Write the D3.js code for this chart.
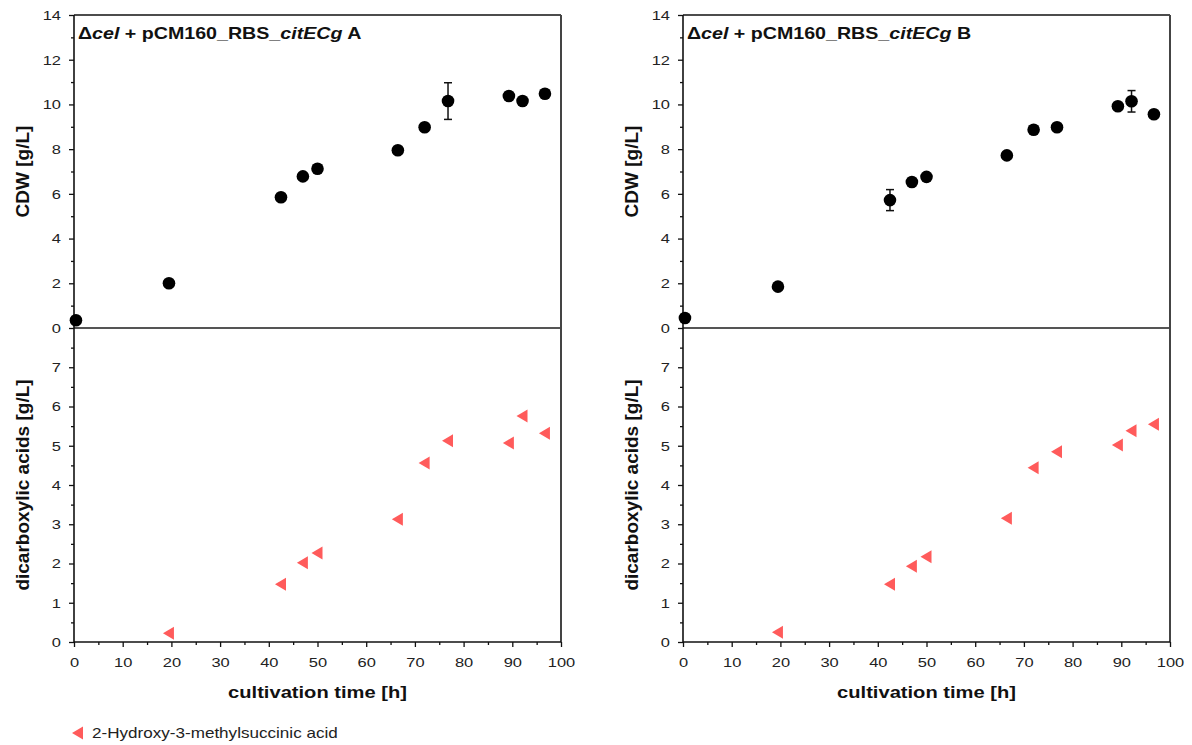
<!DOCTYPE html>
<html>
<head>
<meta charset="utf-8">
<script src="https://cdn.jsdelivr.net/npm/d3@7"></script>
<style>
  body { margin: 0; background: #fff; }
  svg { font-family: "Liberation Sans", Arial, sans-serif; }
</style>
</head>
<body>
<svg id="chart" width="1192" height="745"></svg>
<script>
// sampling times [h]
const timesCdw = [0.4, 19.5, 42.5, 47, 50, 66.5, 72, 76.8, 89.3, 92.1, 96.7];
const timesAcid = [19.5, 42.5, 47, 50, 66.5, 72, 76.8, 89.3, 92.1, 96.7];

// panel A
const cdwA = [0.35, 2.0, 5.85, 6.78, 7.12, 7.95, 8.98, 10.15, 10.38, 10.15, 10.48];
const cdwErrA = [0, 0, 0, 0, 0, 0, 0, 0.82, 0, 0, 0];
const acidA = [0.22, 1.47, 2.02, 2.27, 3.13, 4.56, 5.13, 5.07, 5.76, 5.32];

// panel B
const cdwB = [0.45, 1.85, 5.72, 6.53, 6.76, 7.72, 8.87, 8.98, 9.92, 10.14, 9.56];
const cdwErrB = [0, 0, 0.47, 0, 0, 0, 0, 0, 0, 0.48, 0];
const acidB = [0.25, 1.47, 1.93, 2.17, 3.15, 4.44, 4.85, 5.02, 5.38, 5.55];

const xTicks = d3.range(0, 101, 10);
const cdwTicks = d3.range(0, 15, 2);
const acidTicks = d3.range(0, 8, 1);
const legendLabel = "2-Hydroxy-3-methylsuccinic acid";
const acidColor = "#ff5b5b";

// text in the original is drawn a little wide
const SX = 1.22;

const svg = d3.select("#chart");

const panels = [
  { left: 74, letter: "A", cdw: cdwA, err: cdwErrA, acid: acidA },
  { left: 683, letter: "B", cdw: cdwB, err: cdwErrB, acid: acidB }
];

const width = 487;
const yTop = 15, yMid = 328, yBot = 642;

// left-pointing triangle
const tri = "M-6,0L5,-6.5L5,6.5Z";

function widen(sel) {
  sel.each(function () {
    const el = d3.select(this);
    const x0 = +el.attr("x") || 0;
    el.attr("x", 0).attr("transform", "translate(" + x0 + ",0) scale(" + SX + ",1)");
  });
}

panels.forEach(function (p) {
  const g = svg.append("g");
  const x = d3.scaleLinear().domain([0, 100]).range([p.left, p.left + width]);
  const yc = d3.scaleLinear().domain([0, 14]).range([yMid, yTop]);
  const ya = d3.scaleLinear().domain([0, 8]).range([yBot, yMid]);

  // minor ticks
  g.append("g")
    .attr("transform", "translate(" + p.left + ",0)")
    .call(d3.axisLeft(yc).tickValues(d3.range(1, 14, 2)).tickSize(3).tickFormat(""))
    .call(s => s.select(".domain").remove());
  g.append("g")
    .attr("transform", "translate(" + p.left + ",0)")
    .call(d3.axisLeft(ya).tickValues(d3.range(0.5, 8, 1)).tickSize(3).tickFormat(""))
    .call(s => s.select(".domain").remove());
  g.append("g")
    .attr("transform", "translate(0," + yBot + ")")
    .call(d3.axisBottom(x).tickValues(d3.range(5, 100, 10)).tickSize(3).tickFormat(""))
    .call(s => s.select(".domain").remove());

  // major ticks
  const axC = g.append("g")
    .attr("transform", "translate(" + p.left + ",0)")
    .call(d3.axisLeft(yc).tickValues(cdwTicks).tickSize(5).tickPadding(8));
  axC.select(".domain").remove();
  const axA = g.append("g")
    .attr("transform", "translate(" + p.left + ",0)")
    .call(d3.axisLeft(ya).tickValues(acidTicks).tickSize(5).tickPadding(8));
  axA.select(".domain").remove();
  const axX = g.append("g")
    .attr("transform", "translate(0," + yBot + ")")
    .call(d3.axisBottom(x).tickValues(xTicks).tickSize(5).tickPadding(10));
  axX.select(".domain").remove();
  g.selectAll(".tick text").attr("font-size", 13.5).attr("fill", "#222")
    .attr("font-family", "Liberation Sans, Arial, sans-serif")
    .call(widen);
  g.selectAll(".tick line").attr("stroke", "#111").attr("stroke-width", 1.3);

  // frame
  g.append("line").attr("x1", p.left).attr("x2", p.left + width)
    .attr("y1", yTop).attr("y2", yTop).attr("stroke", "#111").attr("stroke-width", 1.5);
  g.append("line").attr("x1", p.left).attr("x2", p.left + width)
    .attr("y1", yMid).attr("y2", yMid).attr("stroke", "#555").attr("stroke-width", 2);
  g.append("line").attr("x1", p.left + width).attr("x2", p.left + width)
    .attr("y1", yTop).attr("y2", yBot).attr("stroke", "#444").attr("stroke-width", 2);
  g.append("line").attr("x1", p.left).attr("x2", p.left)
    .attr("y1", yTop).attr("y2", yBot + 0.8).attr("stroke", "#111").attr("stroke-width", 1.6);
  g.append("line").attr("x1", p.left).attr("x2", p.left + width)
    .attr("y1", yBot).attr("y2", yBot).attr("stroke", "#111").attr("stroke-width", 1.6);

  // title
  const t = g.append("text").attr("x", p.left + 4).attr("y", 39)
    .attr("font-size", 16.5).attr("font-weight", "bold").attr("fill", "#111");
  t.append("tspan").text("\u0394");
  t.append("tspan").attr("font-style", "italic").text("cel");
  t.append("tspan").text(" + pCM160_RBS_");
  t.append("tspan").attr("font-style", "italic").text("citECg");
  t.append("tspan").text(" " + p.letter);
  t.attr("textLength", null);
  t.each(function () {
    d3.select(this).attr("x", 0)
      .attr("transform", "translate(" + (p.left + 4) + ",0) scale(1.19,1)");
  });

  // axis titles
  g.append("text")
    .attr("transform", "translate(" + (p.left - 45) + "," + ((yTop + yMid) / 2) + ") rotate(-90)")
    .attr("text-anchor", "middle").attr("font-size", 19).attr("font-weight", "bold")
    .attr("fill", "#111").text("CDW [g/L]");
  g.append("text")
    .attr("transform", "translate(" + (p.left - 45) + "," + ((yMid + yBot) / 2) + ") rotate(-90)")
    .attr("text-anchor", "middle").attr("font-size", 19).attr("font-weight", "bold")
    .attr("fill", "#111").text("dicarboxylic acids [g/L]");
  g.append("text")
    .attr("x", p.left + width / 2).attr("y", 698)
    .attr("text-anchor", "middle").attr("font-size", 16.5).attr("font-weight", "bold")
    .attr("fill", "#111").text("cultivation time [h]")
    .call(widen);

  // error bars
  const errPts = timesCdw.map((t, i) => ({ t: t, v: p.cdw[i], e: p.err[i] })).filter(d => d.e > 0);
  const eb = g.selectAll(".err").data(errPts).enter().append("g").attr("stroke", "#111").attr("stroke-width", 1.5);
  eb.append("line").attr("x1", d => x(d.t)).attr("x2", d => x(d.t))
    .attr("y1", d => yc(d.v - d.e)).attr("y2", d => yc(d.v + d.e));
  eb.append("line").attr("x1", d => x(d.t) - 4).attr("x2", d => x(d.t) + 4)
    .attr("y1", d => yc(d.v - d.e)).attr("y2", d => yc(d.v - d.e));
  eb.append("line").attr("x1", d => x(d.t) - 4).attr("x2", d => x(d.t) + 4)
    .attr("y1", d => yc(d.v + d.e)).attr("y2", d => yc(d.v + d.e));

  // CDW points
  g.selectAll(".cdw").data(timesCdw).enter().append("circle")
    .attr("cx", d => x(d)).attr("cy", (d, i) => yc(p.cdw[i]))
    .attr("r", 6.3).attr("fill", "#000");

  // acid points
  g.selectAll(".acid").data(timesAcid).enter().append("path")
    .attr("d", tri)
    .attr("transform", (d, i) => "translate(" + x(d) + "," + ya(p.acid[i]) + ")")
    .attr("fill", acidColor);
});

// legend
svg.append("path").attr("d", tri).attr("transform", "translate(78,733)").attr("fill", acidColor);
svg.append("text").attr("x", 92).attr("y", 738).attr("font-size", 14).attr("fill", "#222")
  .text(legendLabel)
  .call(widen);
</script>
</body>
</html>
